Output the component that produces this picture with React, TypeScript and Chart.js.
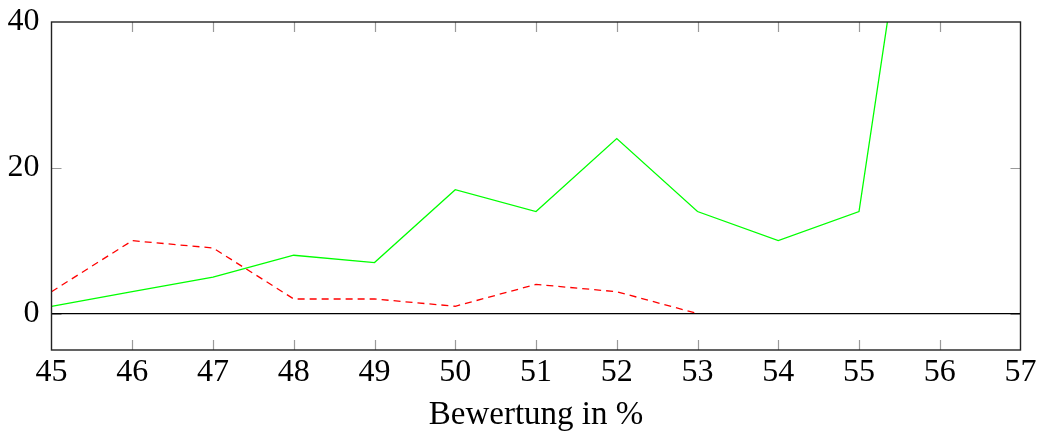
import React, { useEffect, useRef } from "react";
import { Chart, registerables } from "chart.js";

Chart.register(...registerables);

const xValues = [45, 46, 47, 48, 49, 50, 51, 52, 53, 54, 55, 56];
const greenValues = [1, 3, 5, 8, 7, 17, 14, 24, 14, 10, 14, 88];
const redX = [45, 46, 47, 48, 49, 50, 51, 52, 53];
const redValues = [3, 10, 9, 2, 2, 1, 4, 3, 0];
const zeroX = [45, 57];
const zeroValues = [0, 0];
const yTicks = [0, 20, 40];
const xLabel = "Bewertung in %";

const FONT = "'Liberation Serif', 'DejaVu Serif', serif";

const boxPlugin = {
  id: "boxTicks",
  beforeDatasetsDraw(chart: any) {
    const { ctx, chartArea } = chart;
    const { left, right, top, bottom } = chartArea;
    const xs = chart.scales.x;
    const ys = chart.scales.y;
    const tl = 10;
    ctx.save();
    ctx.strokeStyle = "#9a9a9a";
    ctx.lineWidth = 1.2;
    ctx.beginPath();
    xs.ticks.forEach((t: any) => {
      const px = Math.round(xs.getPixelForValue(t.value)) + 0.5;
      if (px <= left + 2 || px >= right - 2) return;
      ctx.moveTo(px, bottom);
      ctx.lineTo(px, bottom - tl);
      ctx.moveTo(px, top);
      ctx.lineTo(px, top + tl);
    });
    ys.ticks.forEach((t: any) => {
      const py = Math.round(ys.getPixelForValue(t.value)) + 0.5;
      if (py <= top + 2 || py >= bottom - 2) return;
      ctx.moveTo(left, py);
      ctx.lineTo(left + tl, py);
      ctx.moveTo(right, py);
      ctx.lineTo(right - tl, py);
    });
    ctx.stroke();
    ctx.restore();
  },
  afterDatasetsDraw(chart: any) {
    const { ctx, chartArea } = chart;
    const { left, right, top, bottom } = chartArea;
    ctx.save();
    ctx.strokeStyle = "#222";
    ctx.lineWidth = 1.4;
    ctx.strokeRect(left, top, right - left, bottom - top);
    ctx.restore();
  },
};

export default function App() {
  const ref = useRef<HTMLCanvasElement>(null);
  useEffect(() => {
    if (!ref.current) return;
    const chart = new Chart(ref.current, {
      type: "line",
      data: {
        datasets: [
          {
            data: zeroX.map((x, i) => ({ x, y: zeroValues[i] })),
            borderColor: "#000",
            borderWidth: 1.3,
            pointRadius: 0,
            order: 3,
          },
          {
            data: xValues.map((x, i) => ({ x, y: greenValues[i] })),
            borderColor: "#00ff00",
            borderWidth: 1.3,
            pointRadius: 0,
            order: 1,
          },
          {
            data: redX.map((x, i) => ({ x, y: redValues[i] })),
            borderColor: "#ff0000",
            borderWidth: 1.3,
            borderDash: [7, 5],
            pointRadius: 0,
            order: 2,
          },
        ],
      },
      options: {
        animation: false,
        responsive: false,
        maintainAspectRatio: false,
        layout: { padding: { top: 22, right: 22.5, bottom: 0, left: 0 } },
        plugins: { legend: { display: false }, tooltip: { enabled: false } },
        scales: {
          x: {
            type: "linear",
            min: 45,
            max: 57,
            grid: { display: false, drawTicks: false },
            border: { display: false },
            ticks: {
              stepSize: 1,
              padding: 3,
              color: "#000",
              font: { family: FONT, size: 32 },
              maxRotation: 0,
              autoSkip: false,
            },
            title: {
              display: true,
              text: xLabel,
              color: "#000",
              font: { family: FONT, size: 33 },
              padding: { top: 0, bottom: -3 },
            },
            afterFit(scale: any) {
              scale.height = 82;
              scale.paddingLeft = 0;
              scale.paddingRight = 0;
            },
          },
          y: {
            min: -5,
            max: 40,
            grid: { display: false, drawTicks: false },
            border: { display: false },
            ticks: {
              padding: 12,
              color: "#000",
              font: { family: FONT, size: 32 },
            },
            afterBuildTicks(scale: any) {
              scale.ticks = yTicks.map((v) => ({ value: v }));
            },
            afterFit(scale: any) {
              scale.width = 51.5;
              scale.paddingTop = 0;
              scale.paddingBottom = 0;
            },
          },
        },
      },
      plugins: [boxPlugin],
    });
    return () => chart.destroy();
  }, []);
  return (
    <div style={{ position: "fixed", left: 0, top: 0, width: 1043, height: 432, background: "#fff" }}>
      <canvas ref={ref} width={1043} height={432} style={{ width: 1043, height: 432 }} />
    </div>
  );
}
